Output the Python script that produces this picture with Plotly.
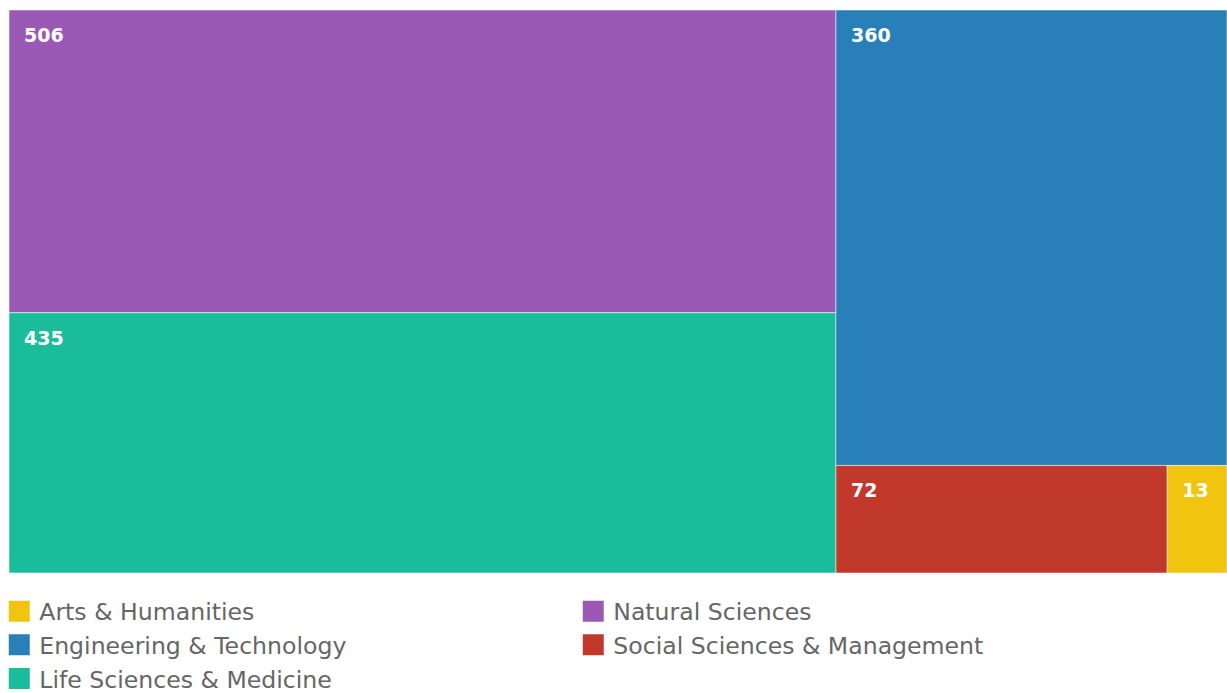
import plotly.graph_objects as go

categories = ["Natural Sciences", "Life Sciences & Medicine", "Engineering & Technology",
              "Social Sciences & Management", "Arts & Humanities"]
values = [506, 435, 360, 72, 13]
colors = ["#9b59b6", "#1abc9c", "#2980b9", "#c0392b", "#f1c40f"]

legend_order = ["Arts & Humanities", "Natural Sciences", "Engineering & Technology",
                "Social Sciences & Management", "Life Sciences & Medicine"]

fig = go.Figure()
fig.add_trace(go.Treemap(
    labels=categories,
    parents=[""] * len(categories),
    values=values,
    marker=dict(colors=colors, line=dict(width=1, color="rgba(255,255,255,0.5)"),
                pad=dict(t=0, l=0, r=0, b=0)),
    texttemplate="\u00a0<br><span style='font-size:19px'>\u00a0\u00a0<b>%{value}</b></span>",
    textposition="top left",
    textfont=dict(family="DejaVu Sans", size=13, color="white"),
    pathbar=dict(visible=False),
    sort=True,
    tiling=dict(packing="squarify", squarifyratio=1.618034, pad=0),
    hoverinfo="label+value",
))

cmap = dict(zip(categories, colors))
for name in legend_order:
    fig.add_trace(go.Scatter(
        x=[None], y=[None], mode="markers", name=name,
        marker=dict(symbol="square", size=16, color=cmap[name],
                    line=dict(width=5, color=cmap[name])),
        showlegend=True,
    ))

fig.update_layout(
    width=1227, height=693,
    margin=dict(l=9, r=0, t=10, b=120, autoexpand=False),
    paper_bgcolor="white", plot_bgcolor="white",
    xaxis=dict(visible=False), yaxis=dict(visible=False),
    showlegend=True,
    legend=dict(
        orientation="h", x=-0.008, y=-0.029, xanchor="left", yanchor="top",
        entrywidth=529, entrywidthmode="pixels",
        font=dict(family="DejaVu Sans", size=23.6, color="#666666"),
        tracegroupgap=0, itemclick=False,
    ),
)

fig.write_html(
    "out.html",
    config={"displayModeBar": False},
    post_script="document.body.style.margin='0';document.body.style.overflow='hidden';",
)
